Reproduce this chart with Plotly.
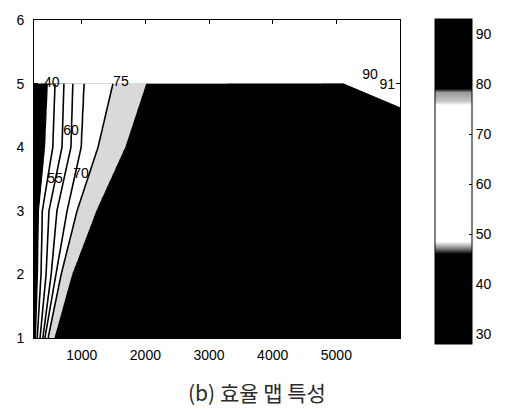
import numpy as np
import plotly.graph_objects as go

# ---- data ----
torque_rows = [1, 2, 3, 4, 5]
eff_levels = [30, 50, 55, 60, 65, 70, 75, 80, 85, 90, 92]
# speed (rpm) where each efficiency level is reached, per torque row
speed_at_level = [
    [150, 270, 300, 345, 390, 420, 470, 580, 1200, 3000, 6000],   # T=1
    [150, 300, 360, 440, 520, 595, 675, 860, 1700, 3500, 6000],   # T=2
    [150, 315, 380, 485, 610, 770, 925, 1240, 2300, 4000, 6000],  # T=3
    [150, 410, 545, 690, 830, 990, 1255, 1695, 2900, 4500, 6000], # T=4
    [150, 455, 580, 720, 860, 1035, 1490, 2025, 3300, 4800, 6000],# T=5
]
# torque limit curve at high speed
limit_speed = [5100, 6000]
limit_torque = [5.0, 4.62]

# contour labels as they sit in the original (text, speed, torque)
label_text = ["40", "75", "60", "55", "70", "90", "91"]
label_speed = [530, 1615, 830, 580, 990, 5530, 5800]
label_torque = [5.0, 5.01, 4.25, 3.49, 3.57, 5.13, 4.97]

x_ticks = [1000, 2000, 3000, 4000, 5000]
y_ticks = [1, 2, 3, 4, 5, 6]
cbar_ticks = [30, 40, 50, 60, 70, 80, 90]
caption = "(b) 효율 맵 특성"

# ---- build efficiency grid from the read contour positions ----
spd = np.linspace(250, 6000, 400)
trq = np.linspace(1, 5, 161)
tab = np.array(speed_at_level, dtype=float)
Z = np.zeros((len(trq), len(spd)))
for i, t in enumerate(trq):
    row = np.array([np.interp(t, torque_rows, tab[:, k]) for k in range(tab.shape[1])])
    Z[i] = np.interp(spd, row, eff_levels)

# fill colours: band midpoints mapped over [37.5, 92.5]
gray = "#d9d9d9"
fill_scale = [
    [0.0, "black"], [0.227, "black"],
    [0.2275, "white"], [0.682, "white"],
    [0.6825, gray], [0.772, gray],
    [0.7725, "black"], [1.0, "black"],
]

fig = go.Figure()
fig.add_trace(go.Contour(
    x=spd, y=trq, z=Z,
    autocontour=False,
    contours=dict(start=40, end=90, size=5, coloring="fill", showlabels=False),
    colorscale=fill_scale,
    line=dict(color="black", width=1.6),
    showscale=False,
    hoverinfo="skip",
))

# white area above the torque limit
fig.add_trace(go.Scatter(
    x=[limit_speed[0], limit_speed[1], limit_speed[1], limit_speed[0]],
    y=[limit_torque[0], limit_torque[1], 5.05, 5.05],
    fill="toself", fillcolor="white", mode="none",
    showlegend=False, hoverinfo="skip",
))
fig.add_trace(go.Scatter(
    x=limit_speed, y=limit_torque, mode="lines",
    line=dict(color="black", width=1), showlegend=False, hoverinfo="skip",
))

# contour labels
fig.add_trace(go.Scatter(
    x=label_speed, y=label_torque, mode="text", text=label_text,
    textfont=dict(size=14, color="black", family="Liberation Sans"),
    showlegend=False, hoverinfo="skip",
))

# colour bar (continuous, as in the original)
cb_scale = [
    [0.0, "black"], [0.277, "black"], [0.295, "#8a8a8a"], [0.315, "white"],
    [0.735, "white"], [0.746, "#c8c8c8"], [0.774, "#9a9a9a"], [0.785, "black"],
    [1.0, "black"],
]
fig.add_trace(go.Scatter(
    x=[None], y=[None], mode="markers",
    marker=dict(color=[30], cmin=28, cmax=93, colorscale=cb_scale, showscale=True,
                colorbar=dict(
                    x=1.0956, xanchor="left", xpad=0,
                    y=0.4907, yanchor="middle", ypad=0,
                    thickness=37, lenmode="pixels", len=325,
                    outlinewidth=1, outlinecolor="black",
                    tickvals=cbar_ticks, ticks="inside", ticklen=3, tickcolor="black",
                    tickfont=dict(size=14, color="black", family="Liberation Sans"),
                )),
    showlegend=False, hoverinfo="skip",
))

fig.add_annotation(x=0.609, y=-0.170, xref="paper", yref="paper",
                   text=caption, showarrow=False, xanchor="center", yanchor="middle",
                   font=dict(size=21, color="#2a2a2a", family="Noto Sans CJK KR"))

axis_common = dict(showline=True, linecolor="black", linewidth=1, mirror="ticks",
                   ticks="inside", ticklen=4, tickcolor="black", showgrid=False,
                   zeroline=False,
                   tickfont=dict(size=14, color="black", family="Liberation Sans"))
fig.update_xaxes(range=[250, 6000], tickvals=x_ticks, ticklabelstandoff=4, **axis_common)
fig.update_yaxes(range=[1, 6], tickvals=y_ticks, ticklabelstandoff=6, **axis_common)

fig.update_layout(
    width=510, height=409,
    margin=dict(l=34, r=110, t=15, b=71),
    paper_bgcolor="white", plot_bgcolor="white",
    showlegend=False,
)
fig.write_html("out.html")
